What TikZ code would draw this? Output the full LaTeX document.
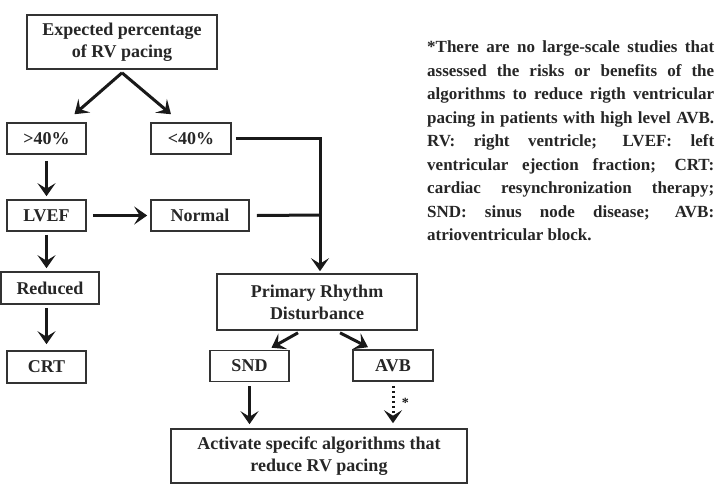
\documentclass[tikz,border=0pt]{standalone}
\usepackage{fontspec}
\setmainfont{Liberation Serif}
\usetikzlibrary{arrows.meta}
\begin{document}
\begin{tikzpicture}[x=1pt,y=-1pt,
  box/.style={draw=black!80,line width=1.6pt,rectangle,inner sep=0pt,align=center,
    font=\fontsize{18}{22}\selectfont\bfseries,text=black!85},
  tip/.style={-{Stealth[length=13pt,width=18pt,inset=5.5pt]}},
  conn/.style={line width=3pt,black!90,tip},
  plain/.style={line width=3pt,black!90},
  dotconn/.style={line width=3pt,black!90,dash pattern=on 2.5pt off 2.5pt,tip}]
\path[use as bounding box,fill=white] (0,0) rectangle (723,496);
\node[box,minimum width=190pt,minimum height=54pt] (top) at (122,42) {Expected percentage\\of RV pacing};
\node[box,minimum width=79pt,minimum height=31pt] (gt) at (46.5,138.5) {>40\%};
\node[box,minimum width=80pt,minimum height=31pt] (lt) at (191,138.5) {<40\%};
\node[box,minimum width=79pt,minimum height=31pt] (lvef) at (46.5,215.5) {LVEF};
\node[box,minimum width=98pt,minimum height=31pt] (normal) at (200,215.5) {Normal};
\node[box,minimum width=98pt,minimum height=32pt] (reduced) at (50,288) {Reduced};
\node[box,minimum width=79pt,minimum height=32pt] (crt) at (46.5,367) {CRT};
\node[box,minimum width=200pt,minimum height=56pt] (prim) at (317,302) {Primary Rhythm\\Disturbance};
\node[box,minimum width=79pt,minimum height=31pt] (snd) at (249.5,366) {SND};
\node[box,minimum width=80pt,minimum height=31pt] (avb) at (393,365.5) {AVB};
\node[box,minimum width=296pt,minimum height=54pt] (act) at (319,456) {Activate specifc algorithms that\\reduce RV pacing};
\node[anchor=north west,inner sep=0pt,text width=287pt,align=justify,
  font=\fontsize{17}{23.5}\selectfont\bfseries,text=black!85] (note) at (427,41)
 {*There are no large-scale studies that\linebreak
 assessed the risks or benefits of the\linebreak
 algorithms to reduce rigth ventricular\linebreak
 pacing in patients with high level AVB.\linebreak
 RV: right ventricle; LVEF: left\linebreak
 ventricular ejection fraction; CRT:\linebreak
 cardiac resynchronization therapy;\linebreak
 SND: sinus node disease; AVB:\linebreak
 atrioventricular block.};
\coordinate (j) at (320,215);
% connectors
\draw[conn] ([yshift=-3pt]top.south) -- ([xshift=28pt,yshift=8pt]gt.north);
\draw[conn] ([yshift=-3pt]top.south) -- ([xshift=-20pt,yshift=8pt]lt.north);
\draw[conn] ([yshift=-6pt]gt.south) -- ([yshift=3pt]lvef.north);
\draw[conn] ([xshift=6pt]lvef.east) -- ([xshift=-3pt]normal.west);
\draw[conn] ([yshift=-3pt]lvef.south) -- ([yshift=3pt,xshift=-3.5pt]reduced.north);
\draw[conn] ([yshift=-3pt,xshift=-3.5pt]reduced.south) -- ([yshift=6pt]crt.north);
\draw[conn] ([xshift=4pt]lt.east) -| ([xshift=3pt,yshift=2pt]prim.north);
\draw[plain] ([xshift=7pt]normal.east) -- (j);
\draw[conn] ([xshift=-19pt,yshift=-2pt]prim.south) -- ([xshift=22pt,yshift=2pt]snd.north);
\draw[conn] ([xshift=23pt,yshift=-2pt]prim.south) -- ([xshift=-25pt,yshift=2pt]avb.north);
\draw[conn] ([yshift=-4pt]snd.south) -- ([yshift=4pt]snd.south |- act.north);
\draw[dotconn] ([yshift=-4pt]avb.south) -- ([yshift=5pt]avb.south |- act.north) node[pos=0.45,right=4pt,font=\fontsize{14}{14}\selectfont\bfseries] (star) {*};
\end{tikzpicture}
\end{document}
